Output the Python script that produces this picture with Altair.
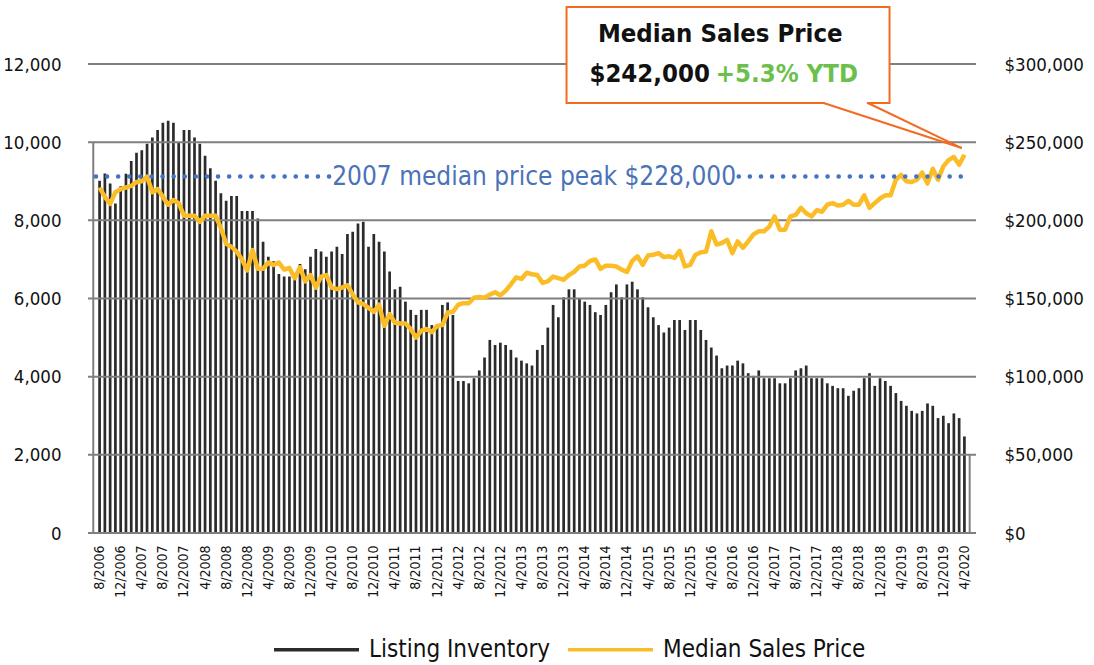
import altair as alt
import pandas as pd

FONT = "DejaVu Sans Condensed, Liberation Sans Narrow, sans-serif"

# Monthly listing inventory, 8/2006 .. 4/2020
inventory = [
    9010, 9200, 8940, 8430, 8870, 9190, 9520, 9730, 9790, 9960,
    10120, 10310, 10500, 10550, 10500, 9980, 10310, 10310, 10120, 9960,
    9650, 9330, 9010, 8690, 8500, 8620, 8620, 8240, 8240, 8240,
    8050, 7450, 7070, 6950, 6630, 6560, 6560, 6560, 6880, 6750,
    7070, 7265, 7200, 7070, 7200, 7325, 7140, 7650, 7710, 7920,
    7965, 7325, 7650, 7450, 7200, 6690, 6235, 6300, 5920, 5710,
    5580, 5710, 5710, 5320, 5320, 5835, 5900, 5580, 3890, 3890,
    3830, 3960, 4160, 4490, 4940, 4810, 4870, 4810, 4685, 4490,
    4410, 4340, 4285, 4685, 4810, 5255, 5835, 5520, 6030, 6235,
    6235, 5990, 5920, 5835, 5650, 5580, 5835, 6160, 6360, 6030,
    6360, 6430, 6235, 6030, 5775, 5520, 5320, 5130, 5255, 5450,
    5450, 5195, 5450, 5450, 5195, 4940, 4745, 4540, 4215, 4285,
    4285, 4410, 4340, 4090, 4020, 4160, 3960, 3960, 3960, 3830,
    3830, 3960, 4160, 4215, 4285, 3960, 3960, 3960, 3830, 3765,
    3705, 3705, 3510, 3640, 3705, 3960, 4090, 3765, 3960, 3890,
    3765, 3580, 3380, 3255, 3125, 3060, 3125, 3315, 3255, 2940,
    3000, 2810, 3060, 2940, 2470,
]

# Monthly median sales price, 8/2006 .. 4/2020
price = [
    221000, 215000, 210500, 218000, 220000, 221000, 222000, 224500, 225000, 228000,
    218000, 220000, 215000, 210000, 213000, 211000, 203000, 203000, 203000, 199000,
    203000, 203000, 203000, 195000, 185000, 183000, 180000, 175000, 168000, 181000,
    169000, 169000, 173000, 171500, 173000, 168500, 169500, 163000, 170000, 161000,
    165000, 157000, 164000, 165000, 157000, 156000, 157000, 158500, 152500, 147500,
    146500, 144000, 141500, 146000, 132500, 140000, 134500, 134000, 134000, 130500,
    125000, 129500, 130500, 128500, 132500, 133000, 141000, 141500, 146000, 147000,
    147000, 150500, 151000, 150500, 152500, 154000, 152000, 155000, 159000, 163500,
    162500, 166500, 165500, 165000, 160000, 161000, 164000, 163000, 162000, 165000,
    167000, 170500, 171000, 174000, 175000, 169000, 171000, 171000, 170500, 168500,
    167000, 174000, 177000, 171500, 177500, 178000, 179000, 176500, 177000, 176000,
    180500, 170500, 171500, 178000, 179500, 180000, 193000, 184500, 185500, 187500,
    179000, 186500, 182500, 186500, 191000, 193000, 193000, 196000, 202500, 194000,
    194000, 202500, 203500, 208000, 204500, 202500, 206500, 205500, 210000, 211000,
    209500, 210000, 212500, 210000, 210000, 216000, 208000, 211000, 214000, 216000,
    216000, 226000, 229000, 225000, 224500, 226000, 230500, 223500, 233000, 226000,
    234500, 238500, 240500, 235500, 242000,
]

months = []
for k in range(len(inventory)):
    months.append(f"{(7 + k) % 12 + 1}/{2006 + (7 + k) // 12}")
idx = list(range(1, len(inventory) + 1))

left_ticks = [0, 2000, 4000, 6000, 8000, 10000, 12000]
right_ticks = [0, 50000, 100000, 150000, 200000, 250000, 300000]
x_ticks = list(range(1, len(inventory) + 1, 4))
series = ["Listing Inventory", "Median Sales Price"]
peak_price = 228000

BAR = "#2b2b2b"
GRID = "#7f7f7f"
YELLOW = "#FBBD27"
BLUE = "#4472C4"
ORANGE = "#F26B23"
GREEN = "#6CBF4A"

bars_df = pd.DataFrame({"idx": idx, "inventory": inventory, "series": series[0]})
line_df = pd.DataFrame({"idx": idx, "price": price, "series": series[1]})

label_lookup = "[" + ",".join(["''"] + [f"'{m}'" for m in months]) + "]"

xscale = alt.Scale(domain=[-0.25, 166.25], nice=False, zero=False)
lscale = alt.Scale(domain=[0, 12000], nice=False)
rscale = alt.Scale(domain=[0, 300000], nice=False)
cscale = alt.Scale(domain=series, range=[BAR, YELLOW])

legend = alt.Legend(
    orient="none", legendX=184, legendY=541, direction="horizontal",
    symbolType="stroke", symbolSize=7225, symbolStrokeWidth=3.5,
    labelFontSize=24, labelFont=FONT, labelColor="#111111",
    columnPadding=10, labelOffset=8, title=None, labelLimit=400,
)

x_axis = alt.Axis(values=x_ticks, labelExpr=f"{label_lookup}[datum.value]",
                  labelAngle=270, labelFontSize=14, labelPadding=12,
                  title=None, grid=False, domain=False, ticks=False,
                  labelOverlap=False, labelFont=FONT, labelColor="#111111")
left_axis = alt.Axis(values=left_ticks, format=",.0f", labelFontSize=18.5, orient="left",
                     labelPadding=27, title=None, grid=False,
                     domain=False, ticks=False, labelFont=FONT, labelColor="#111111")
right_axis = alt.Axis(values=right_ticks, format="$,.0f", orient="right",
                      labelFontSize=18.5, labelPadding=28, title=None,
                      grid=False, domain=False, ticks=False,
                      labelFont=FONT, labelColor="#111111")


def X(field):
    return alt.X(field, scale=xscale, axis=x_axis)


def YL(field):
    return alt.Y(field, scale=lscale, axis=left_axis)


def YR(field):
    return alt.Y(field, scale=rscale, axis=right_axis)


bars = alt.Chart(bars_df).mark_bar(size=2.7).encode(
    x=X("idx:Q"), y=YL("inventory:Q"),
    color=alt.Color("series:N", scale=cscale, legend=legend),
)

grid = alt.Chart(pd.DataFrame({"inventory": left_ticks})).mark_rule(
    color=GRID, strokeWidth=2).encode(y=YL("inventory:Q"))

edges = alt.Chart(pd.DataFrame({"idx": [-0.2, 166.0], "inventory": [0, 0],
                                "y2": [10000, 2000]})).mark_rule(
    color=GRID, strokeWidth=2).encode(x=X("idx:Q"), y=YL("inventory:Q"), y2="y2:Q")

# callout box (in data coordinates)
box = alt.Chart(pd.DataFrame({"idx": [89.55], "x2": [150.8], "inventory": [11002],
                              "y2": [13458]})).mark_rect(
    fill="white", stroke=ORANGE, strokeWidth=2).encode(
    x=X("idx:Q"), x2="x2:Q", y=YL("inventory:Q"), y2="y2:Q")

gap = alt.Chart(pd.DataFrame({"idx": [138.5], "x2": [146.5], "inventory": [11002]})).mark_rule(
    color="white", strokeWidth=3).encode(x=X("idx:Q"), x2="x2:Q", y=YL("inventory:Q"))

pointer = alt.Chart(pd.DataFrame({"idx": [138.3, 146.7], "inventory": [11002, 11002],
                                  "x2": [164.5, 164.5], "y2": [9850, 9850]})).mark_rule(
    color=ORANGE, strokeWidth=2).encode(
    x=X("idx:Q"), x2="x2:Q", y=YL("inventory:Q"), y2="y2:Q")

title1 = alt.Chart(pd.DataFrame({"idx": [118.7], "inventory": [12767],
                                 "t": ["Median Sales Price"]})).mark_text(
    font=FONT, fontSize=25.5, fontWeight="bold", color="#111111", align="center",
    baseline="middle").encode(x=X("idx:Q"), y=YL("inventory:Q"), text="t:N")

title2a = alt.Chart(pd.DataFrame({"idx": [117.3], "inventory": [11744], "t": ["$242,000"]})).mark_text(
    font=FONT, fontSize=25.5, fontWeight="bold", color="#111111", align="right",
    baseline="middle", dx=-3).encode(x=X("idx:Q"), y=YL("inventory:Q"), text="t:N")

title2b = alt.Chart(pd.DataFrame({"idx": [117.3], "inventory": [11744], "t": ["+5.3% YTD"]})).mark_text(
    font=FONT, fontSize=25.5, fontWeight="bold", color=GREEN, align="left",
    baseline="middle", dx=3).encode(x=X("idx:Q"), y=YL("inventory:Q"), text="t:N")

left_group = alt.layer(bars, grid, edges, box, gap, pointer, title1, title2a, title2b)

line = alt.Chart(line_df).mark_line(strokeWidth=4.5, strokeJoin="round").encode(
    x=X("idx:Q"), y=YR("price:Q"),
    color=alt.Color("series:N", scale=cscale, legend=legend),
)

dots = alt.Chart(pd.DataFrame({"idx": [0.3, 122.2], "x2": [44.6, 166.0],
                               "price": [peak_price, peak_price]})).mark_rule(
    color=BLUE, strokeWidth=4.5, strokeDash=[0.1, 11], strokeCap="round").encode(
    x=X("idx:Q"), x2="x2:Q", y=YR("price:Q"))

peak_text = alt.Chart(pd.DataFrame({"idx": [83.4], "price": [peak_price],
                                    "t": ["2007 median price peak $228,000"]})).mark_text(
    font=FONT, fontSize=26, color="#4a72b8", align="center", baseline="middle").encode(
    x=X("idx:Q"), y=YR("price:Q"), text="t:N")

right_group = alt.layer(line, dots, peak_text)

chart = alt.layer(left_group, right_group).resolve_scale(y="independent").properties(
    width=888, height=469,
    autosize=alt.AutoSizeParams(type="none"),
    padding={"left": 88, "top": 64, "right": 118, "bottom": 132},
    background="white",
).configure_view(stroke=None).configure_axisX(labelOverlap=False)

chart.save("out.html", embed_options={"renderer": "svg", "actions": False})
